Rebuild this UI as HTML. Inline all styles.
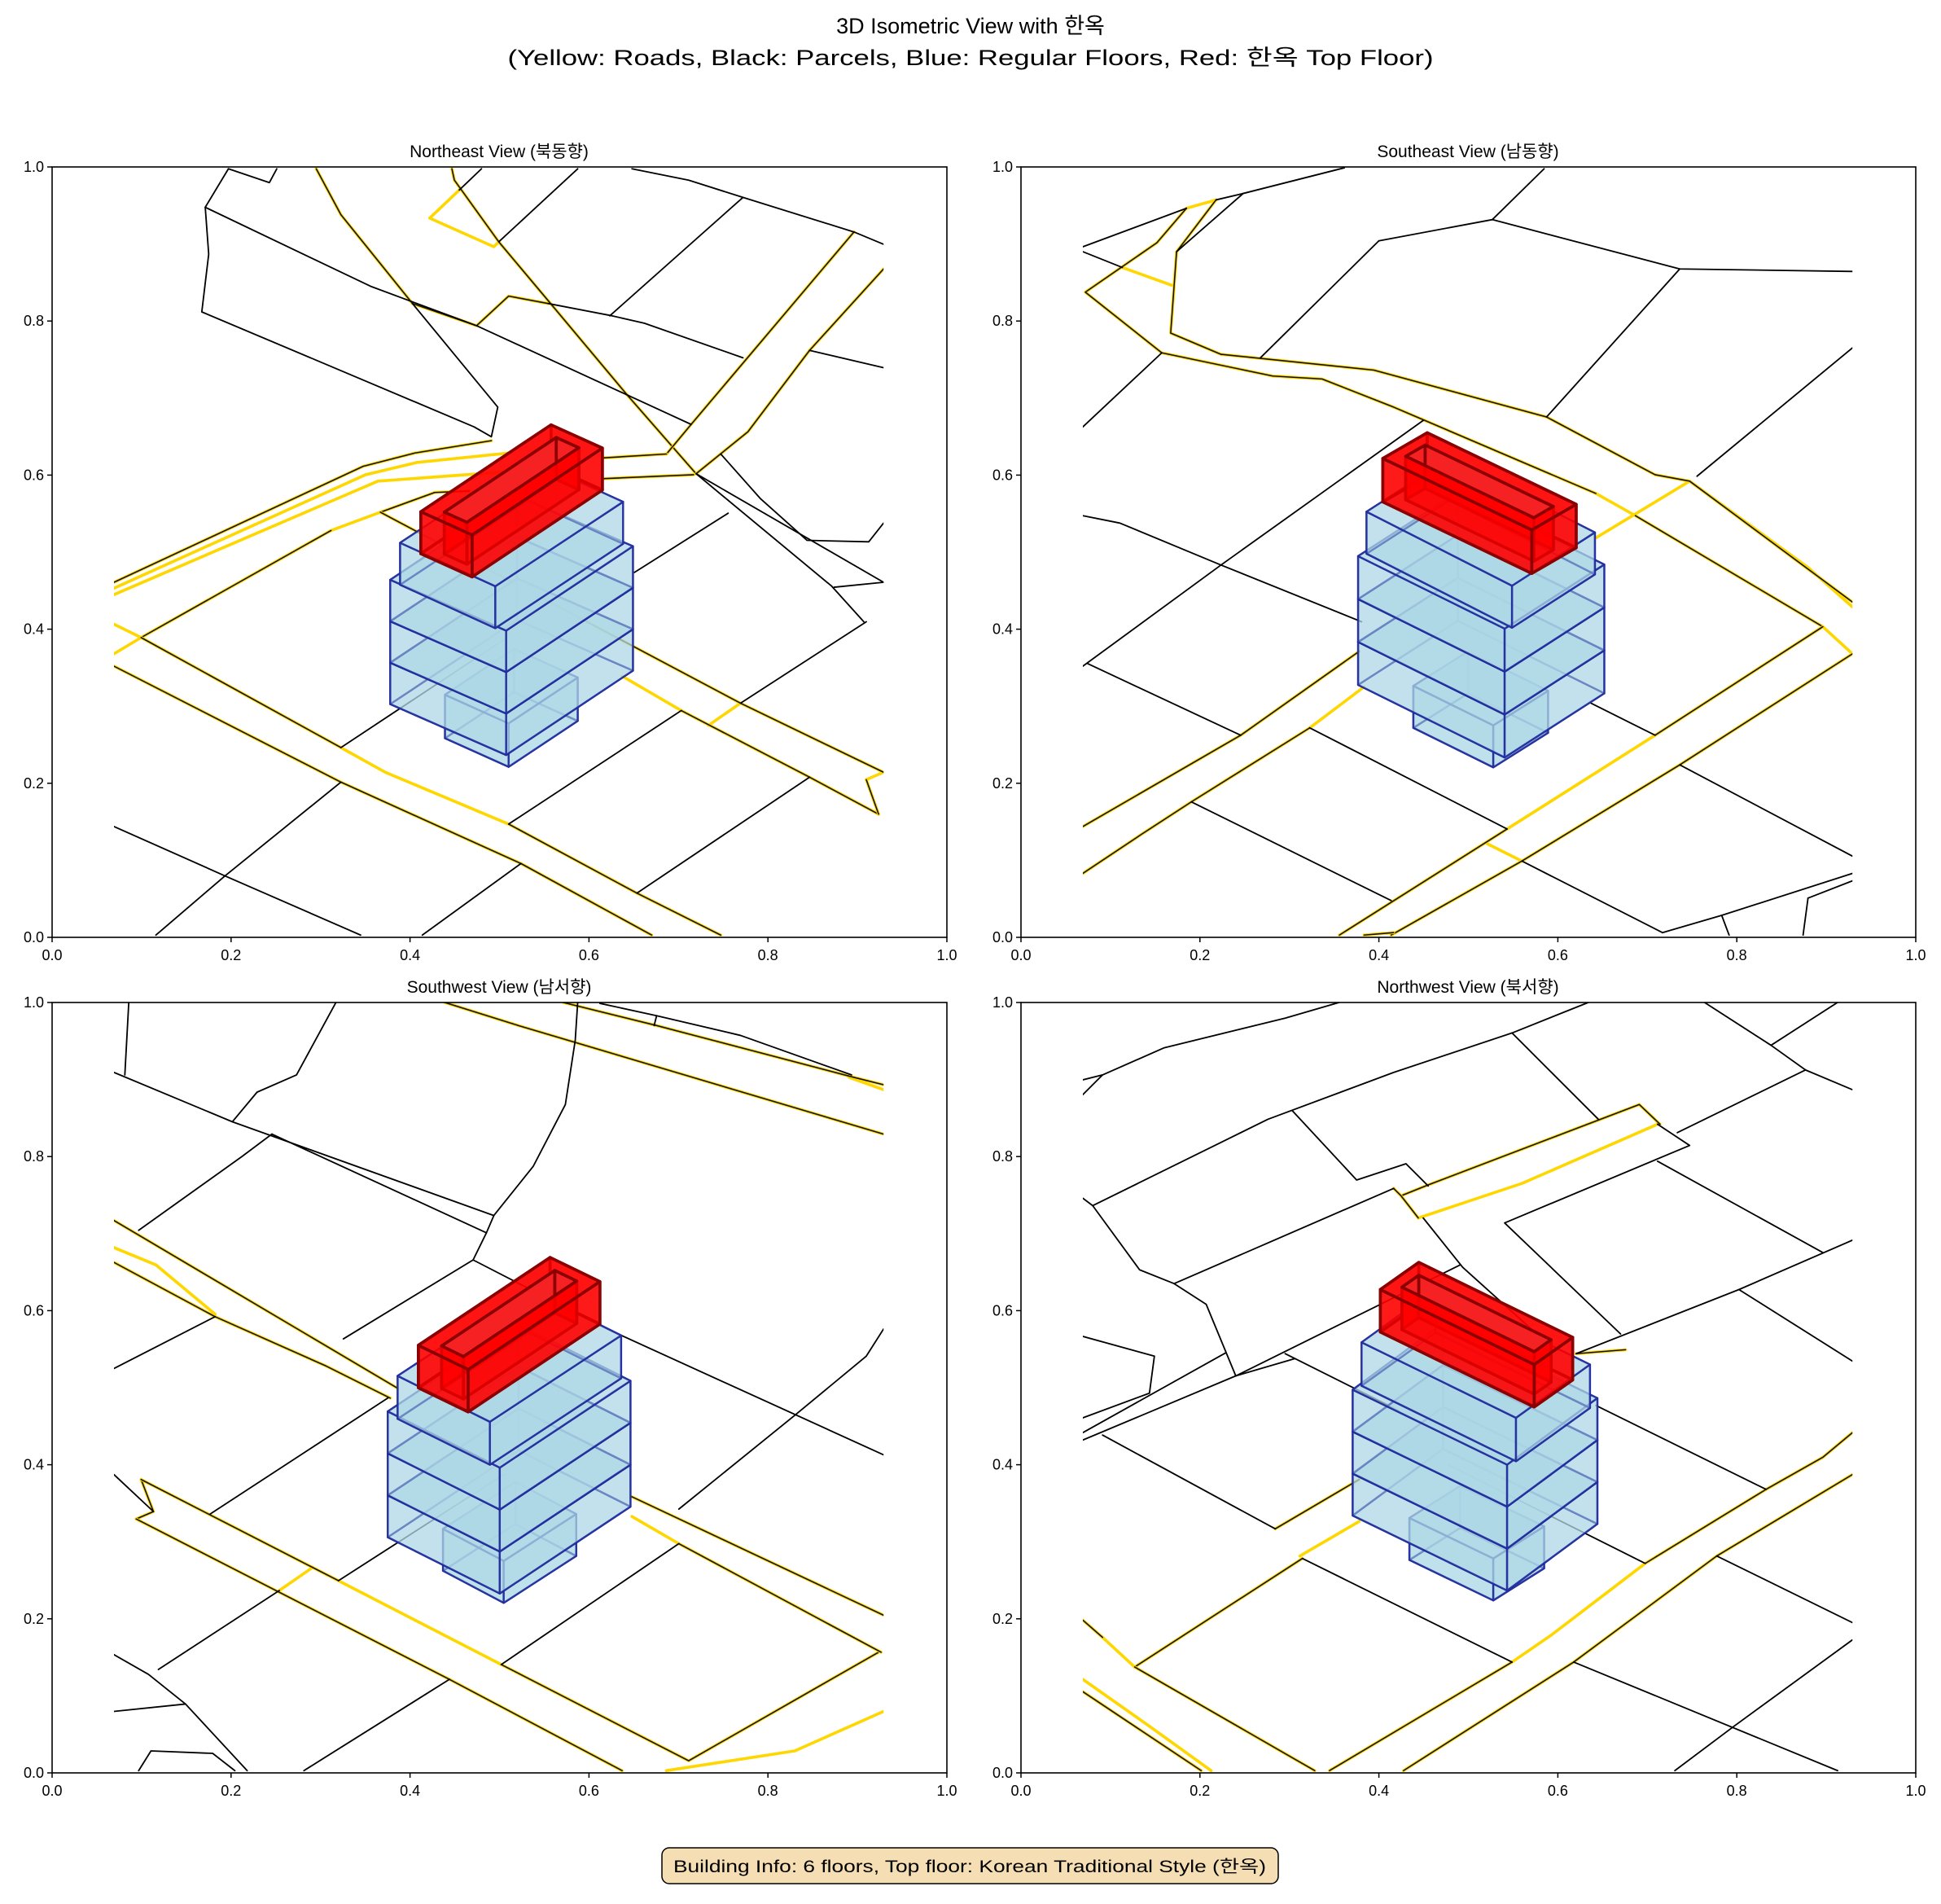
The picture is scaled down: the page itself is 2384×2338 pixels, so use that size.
<!DOCTYPE html>
<html><head><meta charset="utf-8"><style>
html,body{margin:0;padding:0;background:#fff;}
svg{display:block;}
text{font-family:"Liberation Sans","Noto Sans CJK KR",sans-serif;fill:#000;}
</style></head><body>
<svg id="s" xmlns="http://www.w3.org/2000/svg" width="2384" height="2338" viewBox="0 0 2384 2338">
<defs><clipPath id="c" clipPathUnits="userSpaceOnUse"><rect x="0" y="8" width="1560" height="1562"/></clipPath></defs>
<rect width="2384" height="2338" fill="#fff"/>
<text x="1192" y="41" font-size="27" text-anchor="middle">3D Isometric View with 한옥</text>
<text x="1192" y="80" font-size="27" text-anchor="middle" textLength="1137" lengthAdjust="spacingAndGlyphs">(Yellow: Roads, Black: Parcels, Blue: Regular Floors, Red: 한옥 Top Floor)</text>
<text x="613" y="193" font-size="21" text-anchor="middle">Northeast View (북동향)</text>
<text x="1803" y="193" font-size="21" text-anchor="middle">Southeast View (남동향)</text>
<text x="613" y="1219" font-size="21" text-anchor="middle">Southwest View (남서향)</text>
<text x="1803" y="1219" font-size="21" text-anchor="middle">Northwest View (북서향)</text>
<rect x="813" y="2269" width="757" height="44" rx="9" fill="#F5DEB3" stroke="#000" stroke-width="1.5"/>
<text x="1191" y="2299" font-size="21" text-anchor="middle" textLength="728" lengthAdjust="spacingAndGlyphs">Building Info: 6 floors, Top floor: Korean Traditional Style (한옥)</text>
<g id="root"></g>
</svg>
<script>
const S=0.6059;
const panels={
ne:{o:[140,200],ax:[64,205],
k:[[[232,12],[185,90],[192,185],[178,302],[730,535],[765,555],[778,495],[605,285]],[[232,12],[315,40],[330,12]],[[185,90],[520,250],[735,330],[1170,530]],[[880,285],[1010,310],[1075,325],[1275,395]],[[1410,380],[1560,415]],[[1230,590],[1310,680],[1405,765],[1530,768],[1560,730]],[[1180,630],[1455,858],[1520,930]],[[1180,630],[1560,850]],[[1460,860],[1560,850]],[[745,12],[700,55]],[[940,12],[780,160]],[[1275,70],[1005,310]],[[1050,12],[1165,35],[1275,70],[1500,140],[1560,165]],[[460,1185],[800,960]],[[800,1340],[1150,1110]],[[1060,1480],[1410,1245]],[[1270,1095],[1525,930]],[[1055,830],[1245,710]],[[0,1345],[225,1445],[500,1565]],[[85,1565],[225,1445],[460,1255]],[[625,1565],[825,1420]]],
y:[[[700,55],[640,112],[770,170],[780,160]],[[0,862],[510,632],[615,607],[800,588]],[[0,875],[535,645],[810,625]],[[0,935],[55,962]],[[0,995],[55,962]],[[440,745],[540,708]],[[460,1185],[550,1235],[800,1340]],[[1030,1040],[1150,1110]],[[1205,1140],[1270,1095]],[[1525,1250],[1560,1235]]],
yb:[[[410,12],[460,105],[605,285],[735,330],[800,270],[880,285]],[[685,12],[690,35],[780,160],[885,285],[1040,470],[1180,630]],[[1120,590],[1170,530],[1500,140]],[[1180,630],[1285,545],[1410,380],[1560,215]],[[0,850],[505,615],[610,588],[765,563]],[[990,598],[1120,590]],[[990,640],[1175,632]],[[540,708],[650,668],[720,665]],[[55,962],[440,745]],[[55,962],[460,1185]],[[800,1340],[1060,1480],[1230,1565]],[[0,1020],[460,1255],[825,1420],[1090,1565]],[[540,708],[1270,1095],[1560,1235]],[[1150,1110],[1410,1245],[1550,1320]],[[1525,1250],[1550,1320]]],
b:{annex:[[800,1224],[-129,-58],[140,-93],88],main:[[795,1200],[-235,-103],[257,-171],84],upper:[[773,943],[-193,-88],[259,-171],85],red:[[726,839],[-104,-47],[264,-176],85]}},
se:{o:[1330,200],ax:[1254,205],
k:[[[0,170],[210,92]],[[270,75],[325,62],[530,10]],[[325,62],[190,180]],[[0,180],[80,212]],[[600,158],[830,115],[1210,215],[1560,220]],[[830,115],[935,12]],[[600,158],[360,395]],[[1210,215],[940,515]],[[1560,375],[1245,635]],[[0,535],[160,385]],[[0,715],[75,730],[280,815],[565,930]],[[0,1020],[280,815],[690,522]],[[10,1015],[320,1160]],[[460,1145],[860,1350]],[[220,1295],[625,1495]],[[1030,1095],[1160,1160]],[[1210,1220],[1560,1405]],[[890,1415],[1175,1560]],[[1175,1560],[1295,1525],[1560,1440]],[[1295,1525],[1310,1565]],[[1470,1490],[1460,1565]],[[1470,1490],[1560,1455]]],
y:[[[210,92],[270,75]],[[80,212],[180,248]],[[1230,645],[1470,820],[1560,900]],[[1040,670],[1120,715]],[[460,1145],[570,1062]],[[1040,760],[1230,645]],[[860,1350],[1160,1160]],[[1500,940],[1560,995]],[[820,1380],[890,1415]]],
yb:[[[270,75],[190,180],[178,345],[280,388],[590,420],[940,515],[1160,632],[1230,645],[1560,890]],[[210,92],[150,162],[5,262],[160,385],[385,432],[485,438],[630,495],[1040,670]],[[0,1345],[320,1160],[560,990]],[[0,1440],[120,1360],[220,1295],[460,1145]],[[1120,715],[1500,940]],[[1160,1160],[1500,940]],[[625,1565],[890,1415],[1210,1220],[1560,995]],[[520,1565],[860,1350]],[[570,1565],[630,1560]]],
b:{annex:[[832,1225],[-162,-80],[111,-70],85],main:[[855,1205],[-297,-147],[202,-130],87],upper:[[870,942],[-295,-150],[168,-108],85],red:[[910,832],[-302,-145],[90,-52],88]}},
sw:{o:[140,1226],ax:[64,1231],
k:[[[30,8],[22,155]],[[0,150],[240,250],[770,440],[850,340],[915,215],[935,85],[940,8]],[[240,250],[290,190],[370,155],[450,8]],[[320,275],[755,475],[770,440]],[[755,475],[728,530],[1000,670],[1560,925]],[[728,530],[465,690]],[[320,275],[260,320],[50,470]],[[0,750],[205,645]],[[985,10],[1100,35],[1270,75],[1495,155]],[[1100,35],[1095,55]],[[1560,670],[1525,725],[1380,845],[1145,1035]],[[555,810],[195,1045]],[[0,965],[80,1040]],[[0,1330],[70,1370],[145,1430],[270,1565]],[[90,1360],[335,1200]],[[0,1445],[145,1430]],[[50,1565],[75,1525],[200,1530],[245,1565]],[[385,1565],[680,1380]],[[455,1180],[790,965]],[[785,1350],[1145,1105]]],
y:[[[0,505],[85,540],[205,640]],[[335,1200],[400,1155]],[[455,1180],[785,1350]],[[1050,1050],[1145,1105]],[[1490,160],[1560,185]],[[1120,1565],[1380,1525],[1560,1445]]],
yb:[[[670,8],[820,55],[1560,275]],[[910,8],[1100,55],[1500,160],[1560,175]],[[0,450],[575,790]],[[1050,1010],[1560,1250]],[[0,535],[205,645],[430,745],[560,810]],[[55,975],[80,1040],[45,1055]],[[55,975],[455,1180]],[[785,1350],[1165,1545],[1550,1325]],[[45,1055],[680,1380],[1030,1565]],[[1145,1105],[1555,1325]]],
b:{annex:[[790,1225],[-123,-65],[147,-95],85],main:[[782,1206],[-227,-114],[265,-176],85],upper:[[762,945],[-187,-93],[266,-175],87],red:[[718,838],[-101,-49],[267,-178],86]}},
nw:{o:[1330,1226],ax:[1254,1231],
k:[[[0,165],[40,155],[165,100],[410,40],[520,8]],[[0,195],[40,155]],[[20,420],[375,245],[630,150],[870,70],[1025,8]],[[425,228],[555,368],[655,335],[700,380]],[[870,70],[1045,245]],[[1260,8],[1395,95],[1465,145],[1560,185]],[[1395,95],[1530,8]],[[1465,145],[1205,272]],[[1165,255],[1230,298],[855,455],[1090,680]],[[1165,330],[1500,515]],[[0,405],[20,420],[115,550],[185,578],[250,620],[310,765]],[[185,578],[630,385]],[[690,445],[770,545],[920,680]],[[0,685],[145,725],[135,800],[0,850]],[[0,880],[290,718]],[[0,895],[310,765],[765,540]],[[310,765],[430,730]],[[410,720],[640,835]],[[740,945],[1140,1145]],[[40,885],[390,1075]],[[1000,720],[1330,590],[1560,490]],[[1330,590],[1560,735]],[[1040,825],[1385,995]],[[445,1135],[870,1345]],[[1285,1130],[1560,1265]],[[995,1345],[1530,1565]],[[1200,1565],[1320,1475],[1560,1300]]],
y:[[[680,445],[890,375],[1165,255]],[[0,1380],[135,1475],[260,1565]],[[440,1130],[560,1060]],[[870,1345],[950,1290],[1140,1145]],[[40,1295],[105,1355]]],
yb:[[[645,400],[700,378],[1128,215],[1170,255]],[[630,385],[645,400],[680,445]],[[0,1260],[40,1295]],[[105,1355],[445,1135]],[[390,1075],[560,975]],[[105,1355],[470,1565]],[[0,1405],[240,1565]],[[1140,1145],[1385,995],[1500,930],[1560,880]],[[500,1565],[870,1345]],[[650,1565],[995,1345],[1285,1130],[1560,965]],[[1000,720],[1100,712]]],
b:{annex:[[832,1220],[-170,-82],[103,-65],85],main:[[860,1200],[-313,-152],[183,-135],85],upper:[[878,938],[-313,-153],[150,-108],88],red:[[915,828],[-312,-152],[78,-55],86]}}
};
function P(a){return a.map(p=>p[0].toFixed(1)+','+p[1].toFixed(1)).join(' ');}
function pl(pts,st,w){return `<polyline points="${P(pts)}" fill="none" stroke="${st}" stroke-width="${w}" stroke-linejoin="round" stroke-linecap="round"/>`;}
function pg(pts,fill,fo,st,so,w){return `<polygon points="${P(pts)}" fill="${fill}" fill-opacity="${fo}" stroke="${st}" stroke-opacity="${so}" stroke-width="${w}" stroke-linejoin="round"/>`;}
function add(a,b){return [a[0]+b[0],a[1]+b[1]];}
function box(fb,u,v,h,fill,fo,st,w){
 const b0=fb,b1=add(fb,u),b2=add(b1,v),b3=add(fb,v);
 const up=p=>[p[0],p[1]-h];const t0=up(b0),t1=up(b1),t2=up(b2),t3=up(b3);
 let s='';const f=(a)=>s+=pg(a,fill,fo,st,0.85,w);
 f([b0,b1,b2,b3]);f([b1,b2,t2,t1]);f([b3,b2,t2,t3]);f([b0,b1,t1,t0]);f([b0,b3,t3,t0]);f([t0,t1,t2,t3]);
 return s;}
function ring(fb,u,v,h){
 const lu=Math.hypot(u[0],u[1]),lv=Math.hypot(v[0],v[1]);
 let au,bu,av,bv;if(lv>lu){au=0.28;bu=0.72;av=0.07;bv=0.93;}else{au=0.07;bu=0.93;av=0.28;bv=0.72;}
 const pt=(a,b,z)=>[fb[0]+u[0]*a+v[0]*b,fb[1]+u[1]*a+v[1]*b-z];
 const F='#ff0000',fo=0.68,st='#8b0000',w=6;let s='';
 const q=(a,o)=>s+=`<polygon points="${P(a)}" fill="${F}" fill-opacity="${o||fo}" stroke="${st}" stroke-width="${w}" stroke-linejoin="round"/>`;
 q([pt(0,0,0),pt(1,0,0),pt(1,1,0),pt(0,1,0)]);
 q([pt(1,0,0),pt(1,1,0),pt(1,1,h),pt(1,0,h)]);q([pt(0,1,0),pt(1,1,0),pt(1,1,h),pt(0,1,h)]);
 const H=[pt(au,av,h),pt(bu,av,h),pt(bu,bv,h),pt(au,bv,h)],L=[pt(au,av,0),pt(bu,av,0),pt(bu,bv,0),pt(au,bv,0)];
 s+=`<polygon points="${P(H)}" fill="#b8dce8" stroke="none"/>`;
 q([H[1],H[2],L[2],L[1]],0.85);q([H[3],H[2],L[2],L[3]],0.85);
 q([H[0],H[1],L[1],L[0]],0.5);q([H[0],H[3],L[3],L[0]],0.5);
 q([pt(0,0,0),pt(1,0,0),pt(1,0,h),pt(0,0,h)]);q([pt(0,0,0),pt(0,1,0),pt(0,1,h),pt(0,0,h)]);
 const O=[pt(0,0,h),pt(1,0,h),pt(1,1,h),pt(0,1,h)];
 s+=`<path d="M${P(O).replace(/ /g,' L')} Z M${P(H).replace(/ /g,' L')} Z" fill="${F}" fill-opacity="0.75" fill-rule="evenodd" stroke="${st}" stroke-width="${w}" stroke-linejoin="round"/>`;
 return s;}
let out='';
for(const k in panels){const p=panels[k];
 let g=`<g transform="translate(${p.o[0]},${p.o[1]}) scale(${S})"><g clip-path="url(#c)">`;
 p.y.forEach(l=>g+=pl(l,'#FFD700',6));
 p.yb.forEach(l=>{g+=pl(l,'#FFD700',6);g+=pl(l,'#111',2.6);});
 p.k.forEach(l=>g+=pl(l,'#000',3));
 const b=p.b,C='#ADD8E6',E='#1f2a9c';
 g+=box(b.annex[0],b.annex[1],b.annex[2],b.annex[3],C,0.55,E,4);
 for(let i=0;i<3;i++){const m=b.main;g+=box([m[0][0],m[0][1]-m[3]*i],m[1],m[2],m[3],C,0.5,E,4);}
 g+=box(b.upper[0],b.upper[1],b.upper[2],b.upper[3],C,0.5,E,4);
 g+=ring(b.red[0],b.red[1],b.red[2],b.red[3]);
 g+='</g></g>';out+=g;
 const x0=p.ax[0],y0=p.ax[1],W=1099,Hh=946;
 out+=`<rect x="${x0}" y="${y0}" width="${W}" height="${Hh}" fill="none" stroke="#000" stroke-width="1.6"/>`;
 for(let i=0;i<=5;i++){const x=x0+W*i/5,y=y0+Hh-Hh*i/5;const lab=(i/5).toFixed(1);
  out+=`<line x1="${x}" y1="${y0+Hh}" x2="${x}" y2="${y0+Hh+6}" stroke="#000" stroke-width="1.5"/>`;
  out+=`<text x="${x}" y="${y0+Hh+28}" font-size="18" text-anchor="middle">${lab}</text>`;
  out+=`<line x1="${x0-6}" y1="${y}" x2="${x0}" y2="${y}" stroke="#000" stroke-width="1.5"/>`;
  out+=`<text x="${x0-10}" y="${y+6}" font-size="18" text-anchor="end">${lab}</text>`;}
}
document.getElementById('root').innerHTML=out;
</script>
</body></html>
